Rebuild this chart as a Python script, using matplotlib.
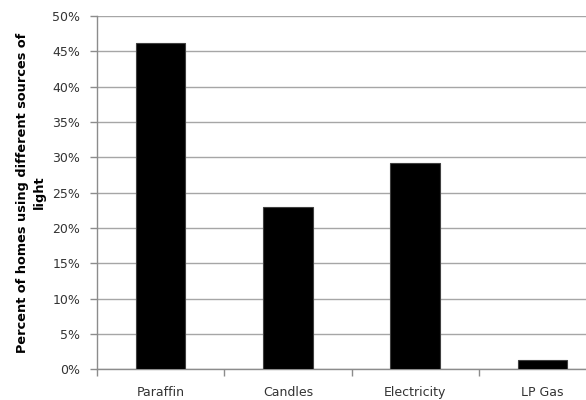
import matplotlib.pyplot as plt
import numpy as np

# sources of light and share of homes (percent)
sources = ["Paraffin", "Candles", "Electricity", "LP Gas"]
percent = [46.2, 23.0, 29.2, 1.3]
y_ticks = list(range(0, 51, 5))

fig = plt.figure(figsize=(5.86, 4.0), dpi=100)
ax = fig.add_axes([97 / 586, 30.7 / 400, 509 / 586, 353.3 / 400])

x = np.arange(len(sources))
ax.bar(x, percent, width=0.39, color="black", edgecolor="#404040", linewidth=0.8, zorder=3)

ax.set_xlim(-0.5, len(sources) - 0.5)
ax.set_ylim(0, 50)
ax.set_yticks(y_ticks)
ax.set_yticklabels([f"{t}%" for t in y_ticks])
ax.yaxis.grid(True, color="#a6a6a6", linewidth=1.0, zorder=0)

ax.set_xticks(x)
ax.set_xticklabels(sources)
ax.set_xticks(np.arange(-0.5, len(sources), 1), minor=True)
ax.tick_params(axis="x", which="major", length=0, pad=12, labelsize=9, labelcolor="#333333")
ax.tick_params(axis="x", which="minor", length=5, color="#8c8c8c", width=1)
ax.tick_params(axis="y", length=5, color="#8c8c8c", width=1, labelsize=9, labelcolor="#333333", pad=7)

for side in ["top", "right"]:
    ax.spines[side].set_visible(False)
for side in ["left", "bottom"]:
    ax.spines[side].set_color("#8c8c8c")
    ax.spines[side].set_linewidth(1)

ax.set_ylabel("Percent of homes using different sources of\nlight", fontsize=9.3,
              fontweight="bold", labelpad=5, linespacing=1.3)

fig.savefig("out.png", dpi=100)
